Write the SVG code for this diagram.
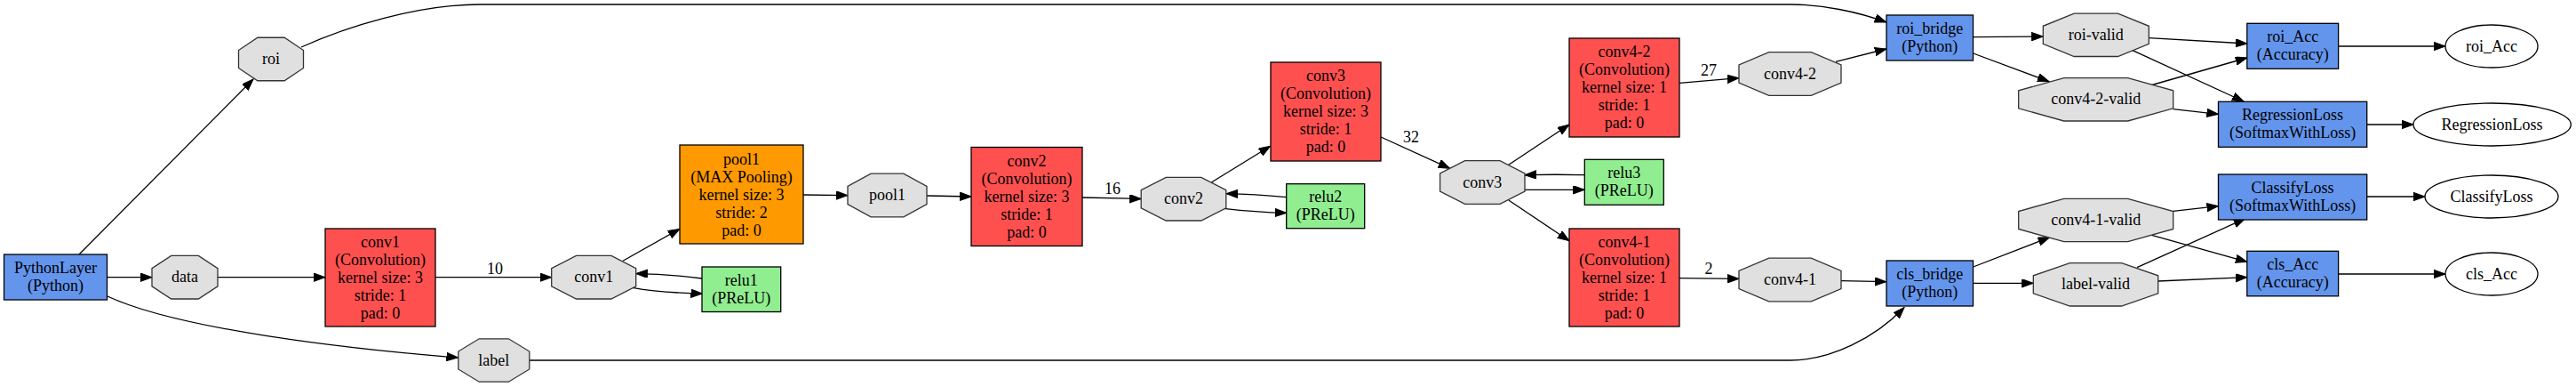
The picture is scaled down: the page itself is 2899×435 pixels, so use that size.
<svg xmlns="http://www.w3.org/2000/svg" width="2899" height="435" viewBox="0 0 2899 435">
<style>
text{font-family:"Liberation Serif","Times New Roman",serif;font-size:18px;fill:#000;text-anchor:middle}
.blob{fill:#e0e0e0;stroke:#333;stroke-width:1.3}
.conv{fill:#ff5050;stroke:#000;stroke-width:1.3}
.pool{fill:#ff9900;stroke:#000;stroke-width:1.3}
.py{fill:#6495ed;stroke:#000;stroke-width:1.3}
.relu{fill:#90ee90;stroke:#000;stroke-width:1.3}
.out{fill:#fff;stroke:#000;stroke-width:1.3}
.e{fill:none;stroke:#000;stroke-width:1.3;marker-end:url(#ah)}
</style>
<defs>
<marker id="ah" markerUnits="userSpaceOnUse" markerWidth="14" markerHeight="10" refX="13" refY="4.7" orient="auto">
<path d="M0,0 L13,4.7 L0,9.4 z" fill="#000" stroke="#000" stroke-width="1"/>
</marker>
</defs>
<rect width="2899" height="435" fill="#fff"/>

<g id="connectors">
<path class="e" d="M89,286 L285,89"/>
<path class="e" d="M120.5,311.7 L171,311.7"/>
<path class="e" d="M121,333 C200,370 390,392 515.5,402"/>
<path class="e" d="M245,311.7 L366,311.7"/>
<path class="e" d="M490,311.7 L620.7,311.7"/>
<path class="e" d="M701,293.3 L765,257.3"/>
<path class="e" d="M790,313 C768,310 740,308 715.7,307.6"/>
<path class="e" d="M711.7,323.3 C735,327.5 765,329.5 790.5,330"/>
<path class="e" d="M904,219 L954,219.6"/>
<path class="e" d="M1043,220 L1093,221"/>
<path class="e" d="M1218,222 L1284.2,223.5"/>
<path class="e" d="M1363.3,205 L1429.6,164.3"/>
<path class="e" d="M1447.7,221.7 C1425,219.5 1400,218 1380,217.7"/>
<path class="e" d="M1377.3,234.3 C1400,237 1425,238.8 1447.7,239.3"/>
<path class="e" d="M1554,154 L1631.7,189.3"/>
<path class="e" d="M1697.8,185.3 L1766,140"/>
<path class="e" d="M1697.8,225 L1766,270.7"/>
<path class="e" d="M1783.3,196.7 C1760,196 1735,196.2 1716,196.7"/>
<path class="e" d="M1716,213.3 L1783.3,213.3"/>
<path class="e" d="M1890,93.3 L1957,87.7"/>
<path class="e" d="M1890,312.7 L1957,313.3"/>
<path class="e" d="M2066,69.3 L2122.8,55"/>
<path class="e" d="M2072,315.7 L2122.8,316.7"/>
<path class="e" d="M339,53 C390,30 470,5 540,5 L2015,5 C2050,5 2090,13 2122.8,25"/>
<path class="e" d="M596,405 L2015,405 C2060,405 2110,380 2143,345.5"/>
<path class="e" d="M2220.7,41.7 L2299.3,41"/>
<path class="e" d="M2220.7,60 L2306,91.7"/>
<path class="e" d="M2418.3,42.7 L2528.8,49"/>
<path class="e" d="M2400,56.7 L2525,114"/>
<path class="e" d="M2420,96 L2528.8,65"/>
<path class="e" d="M2445.7,122.7 L2496.5,128.3"/>
<path class="e" d="M2631.6,52 L2752,52"/>
<path class="e" d="M2663.7,140 L2716,140"/>
<path class="e" d="M2220.7,300 L2306.7,266.7"/>
<path class="e" d="M2220.7,318.3 L2288.3,318.3"/>
<path class="e" d="M2445.7,237.3 L2496.5,231.7"/>
<path class="e" d="M2421.7,264.3 L2528.8,294.3"/>
<path class="e" d="M2405,300.7 L2526.7,245.7"/>
<path class="e" d="M2428.7,316 L2528.8,311.7"/>
<path class="e" d="M2663.7,221 L2729,221"/>
<path class="e" d="M2631.6,308 L2752,308"/>
<text x="557" y="307.5">10</text>
<text x="1252" y="217.5">16</text>
<text x="1588" y="159.5">32</text>
<text x="1923" y="84.5">27</text>
<text x="1923" y="307.5">2</text>
</g>

<g id="PythonLayer"><rect class="py" x="4.5" y="286" width="116" height="51"/><text x="62.5" y="307">PythonLayer</text><text x="62.5" y="327">(Python)</text></g>
<g id="roi"><polygon class="blob" points="289.9,42.25 320.1,42.25 341.5,56.5 341.5,76.5 320.1,90.75 289.9,90.75 268.5,76.5 268.5,56.5"/><text x="305" y="72">roi</text></g>
<g id="data"><polygon class="blob" points="192.7,287.4 223.3,287.4 245,301.6 245,321.8 223.3,336 192.7,336 171,321.8 171,301.6"/><text x="208" y="317.2">data</text></g>
<g id="label"><polygon class="blob" points="539.2,380.8 572.4,380.8 595.8,395 595.8,415 572.4,429.2 539.2,429.2 515.8,415 515.8,395"/><text x="555.8" y="410.5">label</text></g>
<g id="conv1-layer"><rect class="conv" x="366" y="257" width="124" height="110"/><text x="428" y="277.5">conv1</text><text x="428" y="297.5">(Convolution)</text><text x="428" y="317.5">kernel size: 3</text><text x="428" y="337.5">stride: 1</text><text x="428" y="357.5">pad: 0</text></g>
<g id="conv1-blob"><polygon class="blob" points="648.5,287.4 687.9,287.4 715.7,301.6 715.7,321.8 687.9,336 648.5,336 620.7,321.8 620.7,301.6"/><text x="668.2" y="317.2">conv1</text></g>
<g id="pool1-layer"><rect class="pool" x="765" y="163" width="139" height="111"/><text x="834.5" y="184.5">pool1</text><text x="834.5" y="204.5">(MAX Pooling)</text><text x="834.5" y="224.5">kernel size: 3</text><text x="834.5" y="244.5">stride: 2</text><text x="834.5" y="264.5">pad: 0</text></g>
<g id="relu1"><rect class="relu" x="790" y="300" width="88.7" height="50.5"/><text x="834.3" y="320.5">relu1</text><text x="834.3" y="340.5">(PReLU)</text></g>
<g id="pool1-blob"><polygon class="blob" points="980.1,195.2 1016.9,195.2 1043,209.4 1043,229.6 1016.9,243.8 980.1,243.8 954,229.6 954,209.4"/><text x="998.5" y="225">pool1</text></g>
<g id="conv2-layer"><rect class="conv" x="1093" y="165.5" width="125" height="111"/><text x="1155.5" y="186.5">conv2</text><text x="1155.5" y="206.5">(Convolution)</text><text x="1155.5" y="226.5">kernel size: 3</text><text x="1155.5" y="246.5">stride: 1</text><text x="1155.5" y="266.5">pad: 0</text></g>
<g id="conv2-blob"><polygon class="blob" points="1312.2,199.4 1351.8,199.4 1379.8,213.6 1379.8,233.8 1351.8,248 1312.2,248 1284.2,233.8 1284.2,213.6"/><text x="1332" y="229.2">conv2</text></g>
<g id="relu2"><rect class="relu" x="1447.7" y="206.7" width="88" height="50"/><text x="1491.7" y="226.7">relu2</text><text x="1491.7" y="246.7">(PReLU)</text></g>
<g id="conv3-layer"><rect class="conv" x="1430" y="70" width="124" height="111"/><text x="1492" y="90.5">conv3</text><text x="1492" y="110.5">(Convolution)</text><text x="1492" y="130.5">kernel size: 3</text><text x="1492" y="150.5">stride: 1</text><text x="1492" y="170.5">pad: 0</text></g>
<g id="conv3-blob"><polygon class="blob" points="1648.6,180.7 1688,180.7 1716,194.9 1716,215.1 1688,229.3 1648.6,229.3 1620.6,215.1 1620.6,194.9"/><text x="1668.3" y="210.5">conv3</text></g>
<g id="relu3"><rect class="relu" x="1783.3" y="179.3" width="89" height="51"/><text x="1827.8" y="199.8">relu3</text><text x="1827.8" y="219.8">(PReLU)</text></g>
<g id="conv4-2-layer"><rect class="conv" x="1766" y="43" width="124" height="111"/><text x="1828" y="64">conv4-2</text><text x="1828" y="84">(Convolution)</text><text x="1828" y="104">kernel size: 1</text><text x="1828" y="124">stride: 1</text><text x="1828" y="144">pad: 0</text></g>
<g id="conv4-1-layer"><rect class="conv" x="1766" y="257" width="124" height="110"/><text x="1828" y="277.5">conv4-1</text><text x="1828" y="297.5">(Convolution)</text><text x="1828" y="317.5">kernel size: 1</text><text x="1828" y="337.5">stride: 1</text><text x="1828" y="357.5">pad: 0</text></g>
<g id="conv4-2-blob"><polygon class="blob" points="1990.7,58.7 2038.3,58.7 2072,72.9 2072,93.1 2038.3,107.3 1990.7,107.3 1957,93.1 1957,72.9"/><text x="2014.5" y="88.5">conv4-2</text></g>
<g id="conv4-1-blob"><polygon class="blob" points="1990.7,290.2 2038.3,290.2 2072,304.4 2072,324.6 2038.3,338.8 1990.7,338.8 1957,324.6 1957,304.4"/><text x="2014.5" y="320">conv4-1</text></g>
<g id="roi_bridge"><rect class="py" x="2123" y="17" width="97.5" height="51"/><text x="2171.8" y="38">roi_bridge</text><text x="2171.8" y="58">(Python)</text></g>
<g id="cls_bridge"><rect class="py" x="2123" y="293" width="97.5" height="51"/><text x="2171.8" y="314">cls_bridge</text><text x="2171.8" y="334">(Python)</text></g>
<g id="roi-valid"><polygon class="blob" points="2334.2,15.1 2383.4,15.1 2418.3,29.3 2418.3,49.3 2383.4,63.5 2334.2,63.5 2299.3,49.3 2299.3,29.3"/><text x="2358.8" y="44.8">roi-valid</text></g>
<g id="conv4-2-valid"><polygon class="blob" points="2322.7,87.6 2394.7,87.6 2445.7,101.8 2445.7,121.8 2394.7,136 2322.7,136 2271.7,121.8 2271.7,101.8"/><text x="2358.7" y="117.3">conv4-2-valid</text></g>
<g id="conv4-1-valid"><polygon class="blob" points="2322.7,223.3 2394.7,223.3 2445.7,237.5 2445.7,257.5 2394.7,271.7 2322.7,271.7 2271.7,257.5 2271.7,237.5"/><text x="2358.7" y="253">conv4-1-valid</text></g>
<g id="label-valid"><polygon class="blob" points="2329.4,295.6 2387.6,295.6 2428.7,309.8 2428.7,329.8 2387.6,344 2329.4,344 2288.3,329.8 2288.3,309.8"/><text x="2358.5" y="325.3">label-valid</text></g>
<g id="roi_Acc-layer"><rect class="py" x="2528.8" y="26.3" width="102.8" height="51"/><text x="2580.2" y="47.3">roi_Acc</text><text x="2580.2" y="67.3">(Accuracy)</text></g>
<g id="RegressionLoss-layer"><rect class="py" x="2496.5" y="114.3" width="167.2" height="51"/><text x="2580.1" y="135.3">RegressionLoss</text><text x="2580.1" y="155.3">(SoftmaxWithLoss)</text></g>
<g id="ClassifyLoss-layer"><rect class="py" x="2496.5" y="196" width="167.2" height="51"/><text x="2580.1" y="217">ClassifyLoss</text><text x="2580.1" y="237">(SoftmaxWithLoss)</text></g>
<g id="cls_Acc-layer"><rect class="py" x="2528.8" y="282.3" width="102.8" height="50.5"/><text x="2580.2" y="303">cls_Acc</text><text x="2580.2" y="323">(Accuracy)</text></g>
<g id="roi_Acc-out"><ellipse class="out" cx="2804" cy="52" rx="52" ry="24"/><text x="2804" y="57.5">roi_Acc</text></g>
<g id="RegressionLoss-out"><ellipse class="out" cx="2804.6" cy="140" rx="88.7" ry="24"/><text x="2804.6" y="145.5">RegressionLoss</text></g>
<g id="ClassifyLoss-out"><ellipse class="out" cx="2804" cy="221" rx="75" ry="24"/><text x="2804" y="226.5">ClassifyLoss</text></g>
<g id="cls_Acc-out"><ellipse class="out" cx="2804" cy="308" rx="52" ry="24"/><text x="2804" y="313.5">cls_Acc</text></g>
</svg>
